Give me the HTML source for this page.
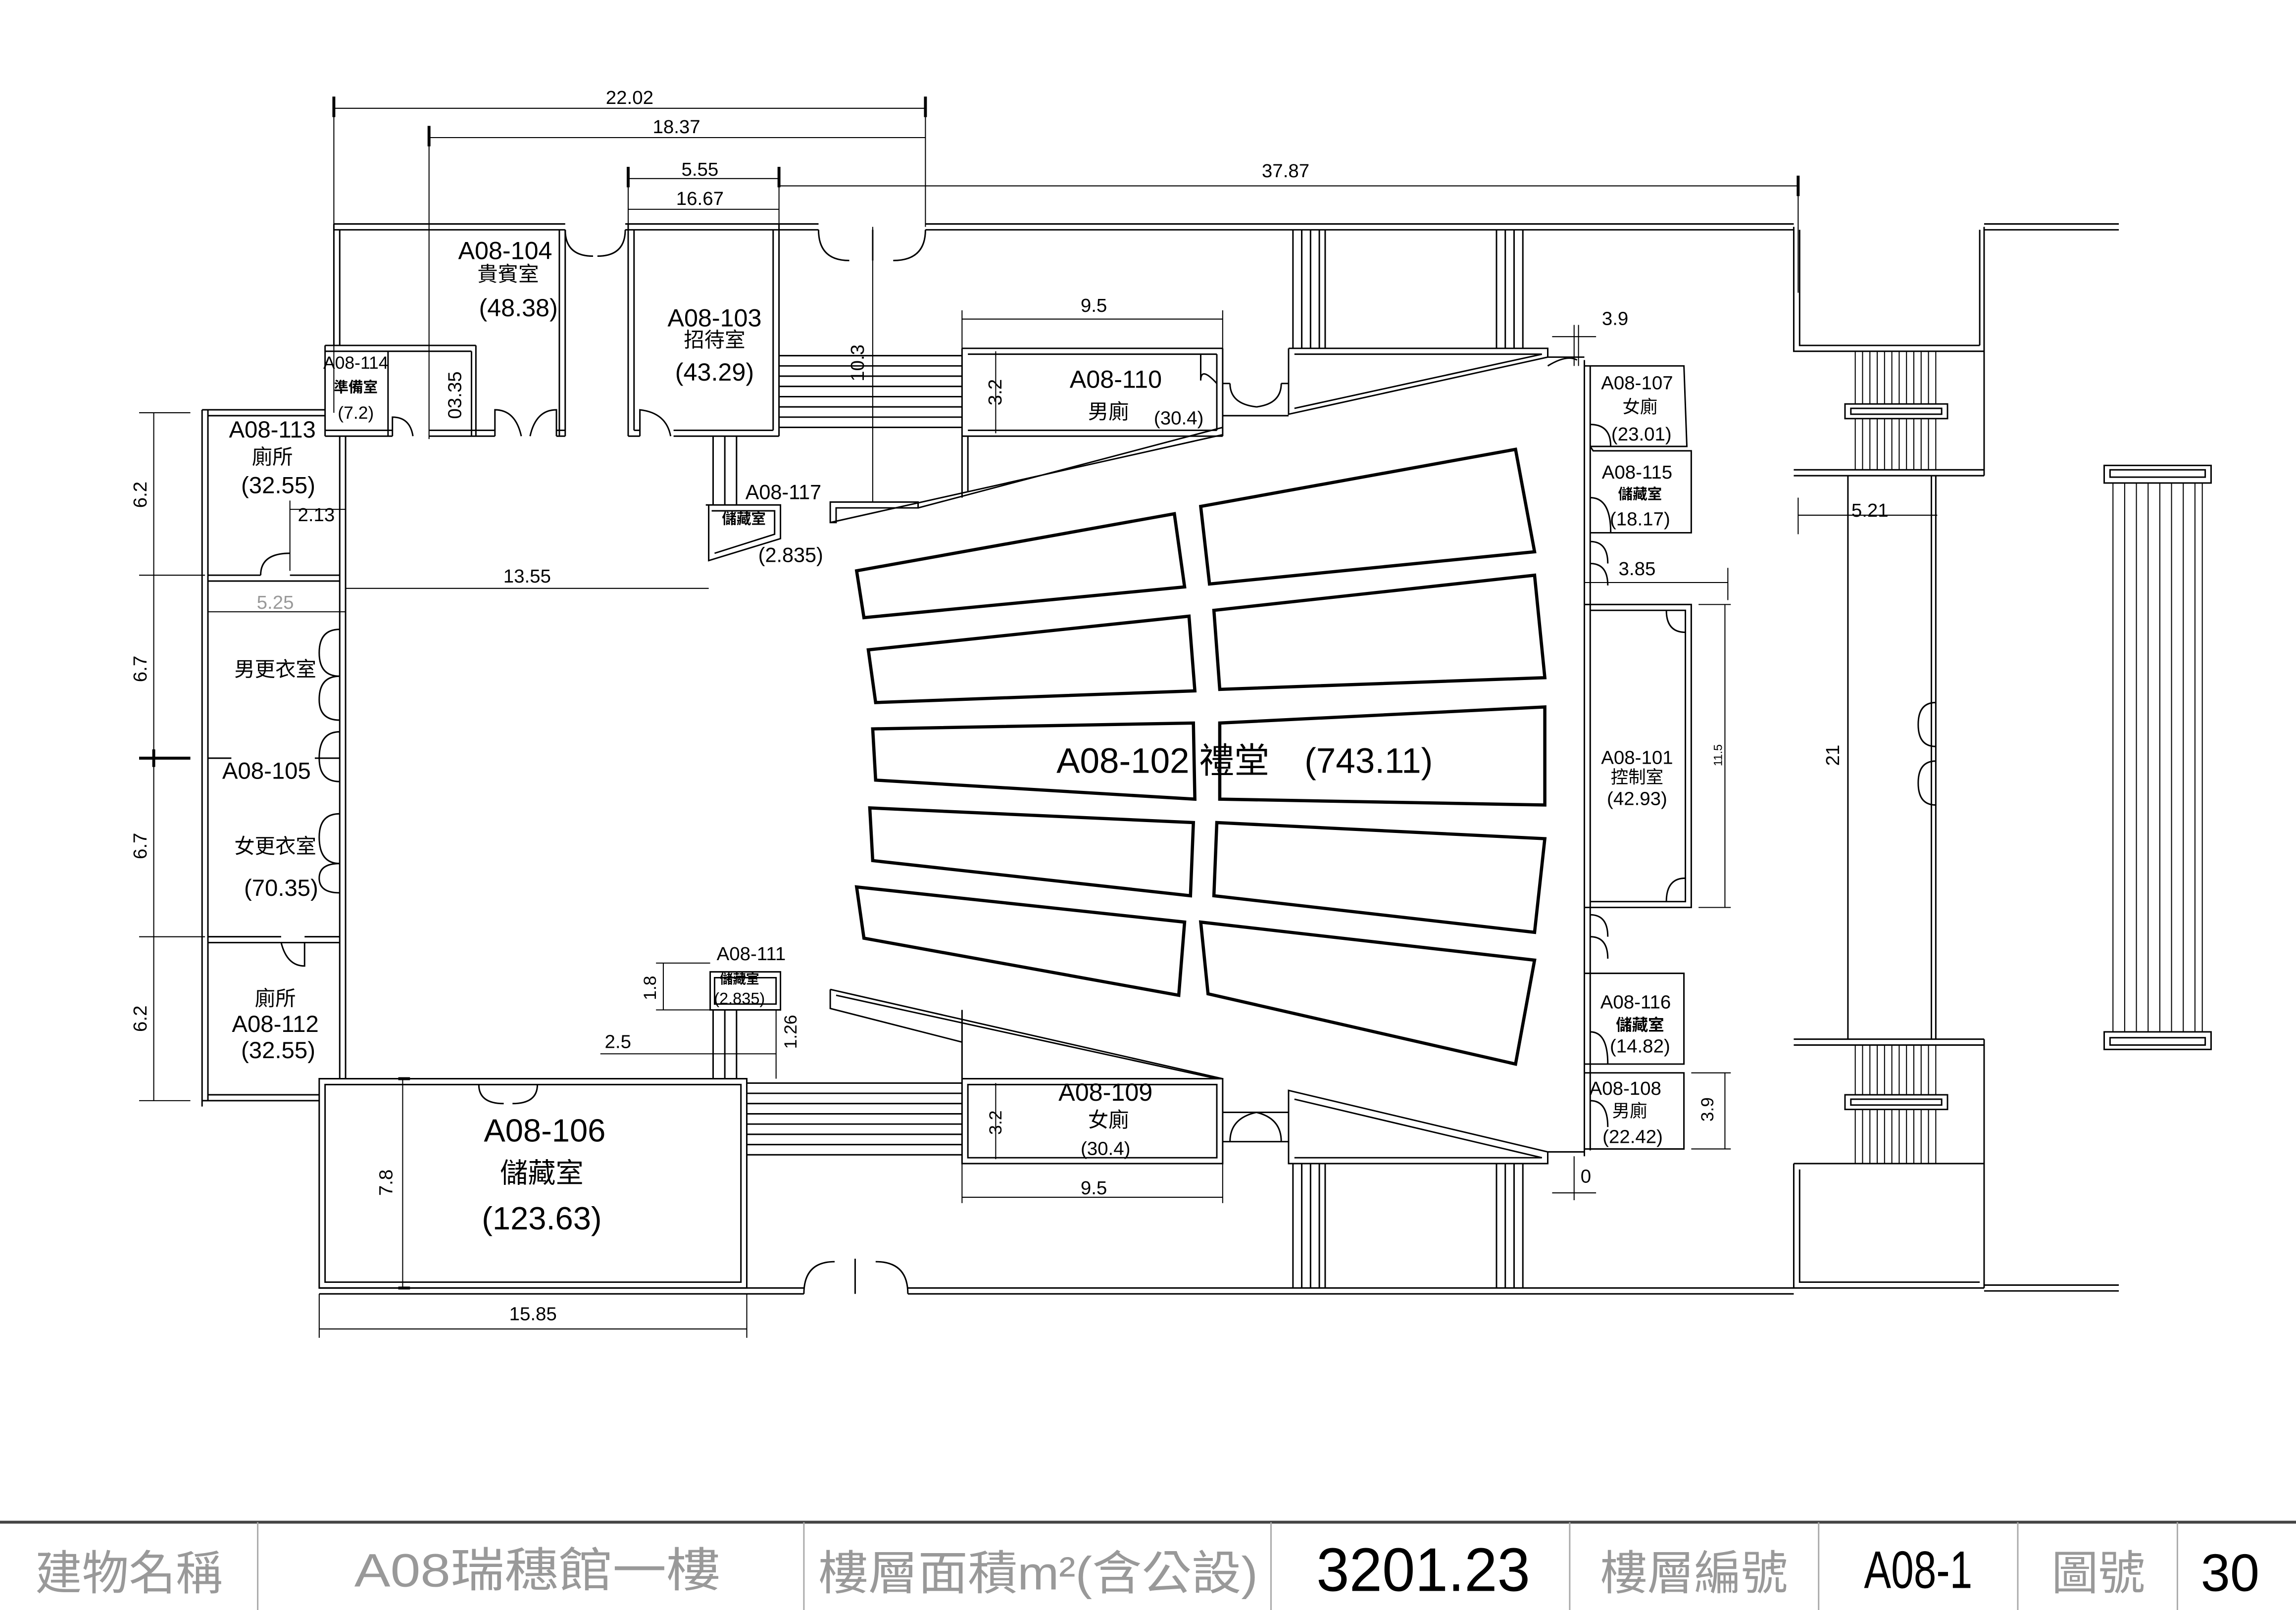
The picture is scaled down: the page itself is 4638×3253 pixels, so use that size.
<!DOCTYPE html>
<html><head><meta charset="utf-8"><style>
html,body{margin:0;padding:0;background:#fff;}
svg{display:block;}
text{font-family:"Liberation Sans","Noto Sans CJK TC",sans-serif;fill:#000;}
.w{stroke:#000;stroke-width:1;fill:none;}
.d{stroke:#000;stroke-width:.7;fill:none;}
.s{stroke:#000;stroke-width:2.2;fill:none;}
.t{stroke:#000;stroke-width:2;}
.g{fill:#999;}
</style></head><body>
<svg width="4638" height="3253" viewBox="0 0 1568 1100" preserveAspectRatio="none" xmlns="http://www.w3.org/2000/svg">
<rect width="1568" height="1100" fill="#fff"/>

<!-- top dims -->
<g class="d">
<line x1="228" y1="74" x2="632" y2="74"/><line x1="228" y1="70" x2="228" y2="282"/><line x1="632" y1="70" x2="632" y2="155"/>
<line x1="293" y1="94" x2="632" y2="94"/><line x1="293" y1="90" x2="293" y2="300"/>
<line x1="429" y1="122" x2="532" y2="122"/><line x1="429" y1="118" x2="429" y2="155"/>
<line x1="429" y1="143" x2="532" y2="143"/>
<line x1="532" y1="127" x2="1228" y2="127"/><line x1="532" y1="118" x2="532" y2="155"/><line x1="1228" y1="122" x2="1228" y2="200"/>
<line x1="596" y1="155" x2="596" y2="343"/>
<line x1="657" y1="218" x2="835" y2="218"/><line x1="657" y1="212" x2="657" y2="238"/><line x1="835" y1="212" x2="835" y2="238"/>
<line x1="680" y1="240" x2="680" y2="296"/>
<line x1="236" y1="402" x2="484" y2="402"/>
<line x1="198" y1="348" x2="236" y2="348"/><line x1="198" y1="342" x2="198" y2="390"/>
<line x1="142" y1="418" x2="236" y2="418"/>
<line x1="105" y1="282" x2="105" y2="752"/>
<line x1="95" y1="282" x2="130" y2="282"/><line x1="95" y1="393" x2="140" y2="393"/><line x1="95" y1="518" x2="130" y2="518"/><line x1="95" y1="640" x2="140" y2="640"/><line x1="95" y1="752" x2="130" y2="752"/>
<line x1="275" y1="737" x2="275" y2="880"/>
<line x1="218" y1="908" x2="510" y2="908"/><line x1="218" y1="884" x2="218" y2="914"/><line x1="510" y1="884" x2="510" y2="914"/>
<line x1="453" y1="658" x2="453" y2="690"/><line x1="448" y1="658" x2="485" y2="658"/><line x1="448" y1="690" x2="485" y2="690"/>
<line x1="530" y1="690" x2="530" y2="737"/>
<line x1="410" y1="720" x2="530" y2="720"/>
<line x1="657" y1="818" x2="835" y2="818"/><line x1="657" y1="795" x2="657" y2="822"/><line x1="835" y1="795" x2="835" y2="822"/>
<line x1="680" y1="740" x2="680" y2="792"/>
<line x1="1060" y1="230" x2="1090" y2="230"/><line x1="1078" y1="222" x2="1078" y2="250"/><line x1="1075" y1="222" x2="1075" y2="250"/>
<line x1="1082" y1="398" x2="1180" y2="398"/><line x1="1180" y1="388" x2="1180" y2="410"/>
<line x1="1178" y1="413" x2="1178" y2="620"/><line x1="1160" y1="413" x2="1182" y2="413"/><line x1="1160" y1="620" x2="1182" y2="620"/>
<line x1="1178" y1="733" x2="1178" y2="785"/><line x1="1155" y1="733" x2="1182" y2="733"/><line x1="1155" y1="785" x2="1182" y2="785"/>
<line x1="1060" y1="815" x2="1090" y2="815"/><line x1="1075" y1="790" x2="1075" y2="820"/>
<line x1="1228" y1="352" x2="1323" y2="352"/><line x1="1228" y1="340" x2="1228" y2="365"/>
</g>
<g class="t">
<line x1="228" y1="66" x2="228" y2="80"/><line x1="632" y1="66" x2="632" y2="80"/>
<line x1="293" y1="86" x2="293" y2="100"/><line x1="429" y1="114" x2="429" y2="128"/><line x1="532" y1="114" x2="532" y2="128"/>
<line x1="1228" y1="120" x2="1228" y2="134"/><line x1="105" y1="512" x2="105" y2="524"/><line x1="95" y1="518" x2="130" y2="518"/>
<line x1="272" y1="737" x2="280" y2="737"/><line x1="272" y1="880" x2="280" y2="880"/>
</g>

<!-- walls top -->
<g class="w">
<path d="M228 153H386M427 153H559M632 153H1225M228 157H386M427 157H559M632 157H1225"/>
<path d="M228 153V236M232 157V236"/>
<path d="M382 157V298M386 157V298"/>
<path d="M222 236H325M222 240H322M322 240V298M325 236V298M265 240V298M222 236V298"/>
<path d="M222 298H268M293 298H338M380 298H386M222 294H268M293 294H338M380 294H386"/>
<path d="M429 153V298M433 157V294M532 153V298M528 157V294M429 298H437M460 298H532M433 294H437M460 294H528"/>
<path d="M386 157Q386 175 405 175M427 157Q427 175 408 175"/>
<path d="M559 157Q559 178 580 178M632 157Q632 178 610 178M596 157V178"/>
<path d="M338 298V280Q352 280 356 298M380 298V280Q366 280 362 298"/>
<path d="M437 298V280Q455 282 458 298"/>
<path d="M268 298V285Q280 285 282 298"/>
<path d="M142 280V752M138 280V756M138 280H222M142 284H222M232 298V737M236 298V737"/>
<path d="M142 393H178M198 393H232M142 397H232M142 640H192M208 640H232M142 644H232M138 752H218M142 748H218"/>
<path d="M142 518H158M215 518H232"/>
<path d="M178 393Q178 378 198 378M192 644Q196 660 208 660V644"/>
<path d="M232 430Q218 430 218 446Q218 462 232 462M232 462Q218 462 218 478Q218 492 232 492"/>
<path d="M232 500Q218 500 218 518Q218 534 232 534M232 556Q218 556 218 572Q218 590 232 590M232 590Q218 590 218 600Q218 610 232 610"/>
<path d="M532 243H657M532 250H657M532 257H657M532 264H657M532 271H657M532 278H657M532 285H657M532 292H657"/>
<path d="M487 298V345M495 298V345M503 298V345"/>
<path d="M482 345H533V368L484 383V345M486 349H529V365L488 378"/>
<path d="M657 238H835M661 242H831M657 238V340M661 298V336M657 298H835M661 294H831M831 242V294M835 238V298"/>
<path d="M567 343H627V347H571V357L567 357ZM567 357L835 297M627 347L835 292"/>
<path d="M820 242V260Q820 250 831 262"/>
<path d="M835 262H840M875 262H880M835 284H880M840 262Q840 276 858 278M875 262Q875 276 858 278"/>
<path d="M880 238H1057V244L880 283V238M884 242H1053L884 279"/>
<path d="M1057 244H1082M1057 250Q1070 242 1077 246"/>
<path d="M883 157V238M889 157V238M895 157V238M901 157V238M905 157V238M1022 157V238M1028 157V238M1034 157V238M1040 157V238"/>
<path d="M1082 246V790M1086 250V786"/>
<path d="M1082 250H1150L1152 305H1086M1086 305L1088 308H1155L1155 364H1086"/>
<path d="M1086 290Q1100 290 1100 305M1086 340Q1100 340 1100 364M1086 370Q1098 370 1098 385M1086 385Q1098 385 1098 400"/>
<path d="M1082 413H1155V620H1082M1086 417H1151V616H1086"/>
<path d="M1138 417Q1138 432 1151 432M1138 616Q1138 600 1151 600"/>
<path d="M1086 625Q1098 625 1098 640M1086 640Q1098 640 1098 655"/>
<path d="M1082 665H1150V727H1082M1082 733H1150V785H1082"/>
<path d="M1086 705Q1098 705 1098 727M1086 752Q1098 752 1098 770"/>
<!-- bottom -->
<path d="M510 740H657M510 747H657M510 754H657M510 761H657M510 768H657M510 775H657M510 782H657M510 789H657"/>
<path d="M487 690V737M495 690V737M503 690V737"/>
<path d="M485 664H533V690H485ZM488 668H530V686H488Z"/>
<path d="M657 737H835V795H657ZM661 741H831V791H661ZM657 690V737"/>
<path d="M567 676V689L657 712M567 676L835 737M571 680L831 737"/>
<path d="M835 760H880M835 780H880M840 780Q840 764 858 760M875 780Q875 764 858 760"/>
<path d="M880 745L1057 787V795H880ZM884 751L1053 791H884"/>
<path d="M1057 787H1082"/>
<path d="M883 795V880M889 795V880M895 795V880M901 795V880M905 795V880M1022 795V880M1028 795V880M1034 795V880M1040 795V880"/>
<path d="M218 737H510V880H218ZM222 741H506V876H222Z"/>
<path d="M327 741Q327 754 344 754M367 741Q367 754 350 754"/>
<path d="M218 880H549M218 884H549M620 880H1225M620 884H1225"/>
<path d="M549 884Q549 862 570 862M620 884Q620 862 598 862M584 860V884"/>
<!-- right side -->
<path d="M1225 155V240H1355M1229 157V236H1352M1355 155V325M1352 157V236M1355 153H1447M1355 157H1447"/>
<path d="M1225 325H1355M1225 321H1355M1225 710H1355M1225 714H1355"/>
<path d="M1225 795V880H1355M1229 799V876H1352M1225 795H1355M1355 710V880M1355 878H1447M1355 882H1447"/>
<path d="M1262 325V710M1322 325V710M1319 325V710"/>
<path d="M1322 480Q1310 480 1310 495Q1310 510 1322 510M1322 520Q1310 520 1310 535Q1310 550 1322 550"/>
<rect x="1260" y="276" width="70" height="10"/><rect x="1264" y="279" width="62" height="4"/>
<rect x="1260" y="748" width="70" height="10"/><rect x="1264" y="751" width="62" height="4"/>
<rect x="1437" y="318" width="73" height="12"/><rect x="1441" y="321" width="65" height="5"/>
<rect x="1437" y="705" width="73" height="12"/><rect x="1441" y="709" width="65" height="5"/>
</g>
<g class="d">
<path d="M1267 240V276M1272 240V276M1277 240V276M1282 240V276M1287 240V276M1292 240V276M1297 240V276M1302 240V276M1307 240V276M1312 240V276M1317 240V276M1322 240V276M1267 286V321M1272 286V321M1277 286V321M1282 286V321M1287 286V321M1292 286V321M1297 286V321M1302 286V321M1307 286V321M1312 286V321M1317 286V321M1322 286V321"/>
<path d="M1267 714V748M1272 714V748M1277 714V748M1282 714V748M1287 714V748M1292 714V748M1297 714V748M1302 714V748M1307 714V748M1312 714V748M1317 714V748M1322 714V748M1267 758V795M1272 758V795M1277 758V795M1282 758V795M1287 758V795M1292 758V795M1297 758V795M1302 758V795M1307 758V795M1312 758V795M1317 758V795M1322 758V795"/>
<path d="M1443 330V705M1451 330V705M1459 330V705M1467 330V705M1475 330V705M1483 330V705M1491 330V705M1499 330V705M1504 330V705"/>
</g>

<!-- seats -->
<g class="s">
<polygon points="585,390 802,351 809,401 590,422"/>
<polygon points="593,444 812,421 816,472 598,480"/>
<polygon points="596,498 815,494 816,546 598,533"/>
<polygon points="594,552 815,562 813,612 596,588"/>
<polygon points="585,606 809,630 805,680 590,641"/>
<polygon points="820,346 1035,307 1048,377 826,399"/>
<polygon points="829,417 1048,393 1055,463 833,471"/>
<polygon points="833,494 1055,483 1055,550 833,546"/>
<polygon points="831,562 1055,573 1048,637 829,612"/>
<polygon points="820,630 1048,656 1035,727 825,679"/>
</g>

<!-- texts -->
<g font-size="16">
<text x="345" y="177" text-anchor="middle" font-size="17">A08-104</text>
<text x="347" y="192" text-anchor="middle" font-size="14">貴賓室</text>
<text x="354" y="216" text-anchor="middle" font-size="17">(48.38)</text>
<text x="488" y="223" text-anchor="middle" font-size="17">A08-103</text>
<text x="488" y="237" text-anchor="middle" font-size="14">招待室</text>
<text x="488" y="260" text-anchor="middle" font-size="17">(43.29)</text>
<text x="243" y="252" text-anchor="middle" font-size="12">A08-114</text>
<text x="243" y="268" text-anchor="middle" font-size="10" font-weight="bold">準備室</text>
<text x="243" y="286" text-anchor="middle" font-size="12">(7.2)</text>
<text transform="translate(315,270) rotate(-90)" text-anchor="middle" font-size="13">03.35</text>
<text x="186" y="299" text-anchor="middle">A08-113</text>
<text x="186" y="317" text-anchor="middle" font-size="14">廁所</text>
<text x="190" y="337" text-anchor="middle">(32.55)</text>
<text x="216" y="356" text-anchor="middle" font-size="13">2.13</text>
<text x="188" y="416" text-anchor="middle" font-size="13" class="g">5.25</text>
<text x="188" y="462" text-anchor="middle" font-size="14">男更衣室</text>
<text x="182" y="532" text-anchor="middle">A08-105</text>
<text x="188" y="583" text-anchor="middle" font-size="14">女更衣室</text>
<text x="192" y="612" text-anchor="middle">(70.35)</text>
<text x="188" y="687" text-anchor="middle" font-size="14">廁所</text>
<text x="188" y="705" text-anchor="middle">A08-112</text>
<text x="190" y="723" text-anchor="middle">(32.55)</text>
<text transform="translate(100,338) rotate(-90)" text-anchor="middle" font-size="13">6.2</text>
<text transform="translate(100,457) rotate(-90)" text-anchor="middle" font-size="13">6.7</text>
<text transform="translate(100,578) rotate(-90)" text-anchor="middle" font-size="13">6.7</text>
<text transform="translate(100,696) rotate(-90)" text-anchor="middle" font-size="13">6.2</text>
<text x="360" y="398" text-anchor="middle" font-size="13">13.55</text>
<text x="535" y="341" text-anchor="middle" font-size="14">A08-117</text>
<text x="508" y="358" text-anchor="middle" font-size="10" font-weight="bold">儲藏室</text>
<text x="540" y="384" text-anchor="middle" font-size="14">(2.835)</text>
<text transform="translate(590,248) rotate(-90)" text-anchor="middle" font-size="13">10.3</text>
<text x="430" y="71" text-anchor="middle" font-size="13">22.02</text>
<text x="462" y="91" text-anchor="middle" font-size="13">18.37</text>
<text x="478" y="120" text-anchor="middle" font-size="13">5.55</text>
<text x="478" y="140" text-anchor="middle" font-size="13">16.67</text>
<text x="878" y="121" text-anchor="middle" font-size="13">37.87</text>
<text x="747" y="213" text-anchor="middle" font-size="13">9.5</text>
<text x="762" y="265" text-anchor="middle" font-size="17">A08-110</text>
<text x="757" y="286" text-anchor="middle" font-size="14">男廁</text>
<text x="805" y="290" text-anchor="middle" font-size="13">(30.4)</text>
<text transform="translate(684,268) rotate(-90)" text-anchor="middle" font-size="13">3.2</text>
<text x="1103" y="222" text-anchor="middle" font-size="13">3.9</text>
<text x="1118" y="266" text-anchor="middle" font-size="13">A08-107</text>
<text x="1120" y="282" text-anchor="middle" font-size="12">女廁</text>
<text x="1121" y="301" text-anchor="middle" font-size="13">(23.01)</text>
<text x="1118" y="327" text-anchor="middle" font-size="13">A08-115</text>
<text x="1120" y="341" text-anchor="middle" font-size="10" font-weight="bold">儲藏室</text>
<text x="1120" y="359" text-anchor="middle" font-size="13">(18.17)</text>
<text x="1118" y="393" text-anchor="middle" font-size="13">3.85</text>
<text x="1118" y="522" text-anchor="middle" font-size="13">A08-101</text>
<text x="1118" y="535" text-anchor="middle" font-size="12">控制室</text>
<text x="1118" y="550" text-anchor="middle" font-size="13">(42.93)</text>
<text transform="translate(1176,516) rotate(-90)" text-anchor="middle" font-size="8">11.5</text>
<text transform="translate(1256,516) rotate(-90)" text-anchor="middle" font-size="13">21</text>
<text x="1277" y="353" text-anchor="middle" font-size="13">5.21</text>
<text x="850" y="528" text-anchor="middle" font-size="24">A08-102 禮堂　(743.11)</text>
<text x="513" y="656" text-anchor="middle" font-size="13">A08-111</text>
<text x="505" y="672" text-anchor="middle" font-size="9" font-weight="bold">儲藏室</text>
<text x="505" y="686" text-anchor="middle" font-size="11">(2.835)</text>
<text transform="translate(448,675) rotate(-90)" text-anchor="middle" font-size="12">1.8</text>
<text transform="translate(544,705) rotate(-90)" text-anchor="middle" font-size="12">1.26</text>
<text x="422" y="716" text-anchor="middle" font-size="13">2.5</text>
<text x="755" y="752" text-anchor="middle" font-size="17">A08-109</text>
<text x="757" y="770" text-anchor="middle" font-size="14">女廁</text>
<text x="755" y="789" text-anchor="middle" font-size="13">(30.4)</text>
<text transform="translate(684,767) rotate(-90)" text-anchor="middle" font-size="12">3.2</text>
<text x="747" y="816" text-anchor="middle" font-size="13">9.5</text>
<text x="1117" y="689" text-anchor="middle" font-size="13">A08-116</text>
<text x="1120" y="704" text-anchor="middle" font-size="11" font-weight="bold">儲藏室</text>
<text x="1120" y="719" text-anchor="middle" font-size="13">(14.82)</text>
<text x="1110" y="748" text-anchor="middle" font-size="13">A08-108</text>
<text x="1113" y="763" text-anchor="middle" font-size="12">男廁</text>
<text x="1115" y="781" text-anchor="middle" font-size="13">(22.42)</text>
<text transform="translate(1170,758) rotate(-90)" text-anchor="middle" font-size="12">3.9</text>
<text x="1083" y="808" text-anchor="middle" font-size="13">0</text>
<text x="372" y="780" text-anchor="middle" font-size="22">A08-106</text>
<text x="370" y="808" text-anchor="middle" font-size="19">儲藏室</text>
<text x="370" y="840" text-anchor="middle" font-size="22">(123.63)</text>
<text transform="translate(268,808) rotate(-90)" text-anchor="middle" font-size="13">7.8</text>
<text x="364" y="902" text-anchor="middle" font-size="13">15.85</text>
</g>

<!-- title block -->
<line x1="0" y1="1040" x2="1568" y2="1040" stroke="#444" stroke-width="2"/>
<g stroke="#aaa" stroke-width="1">
<line x1="176" y1="1040" x2="176" y2="1100"/><line x1="549" y1="1040" x2="549" y2="1100"/><line x1="868" y1="1040" x2="868" y2="1100"/>
<line x1="1072" y1="1040" x2="1072" y2="1100"/><line x1="1242" y1="1040" x2="1242" y2="1100"/><line x1="1378" y1="1040" x2="1378" y2="1100"/><line x1="1487" y1="1040" x2="1487" y2="1100"/>
</g>
<g font-size="32" text-anchor="middle">
<text x="88" y="1086" class="g">建物名稱</text>
<text x="367" y="1084" class="g" textLength="250" lengthAdjust="spacingAndGlyphs">A08瑞穗館一樓</text>
<text x="709" y="1086" class="g" textLength="300" lengthAdjust="spacingAndGlyphs">樓層面積m²(含公設)</text>
<text x="972" y="1087" font-size="42" textLength="146" lengthAdjust="spacingAndGlyphs">3201.23</text>
<text x="1157" y="1086" class="g">樓層編號</text>
<text x="1310" y="1085" font-size="36" textLength="74" lengthAdjust="spacingAndGlyphs">A08-1</text>
<text x="1433" y="1086" class="g">圖號</text>
<text x="1523" y="1087" font-size="36">30</text>
</g>
</svg>
</body></html>
